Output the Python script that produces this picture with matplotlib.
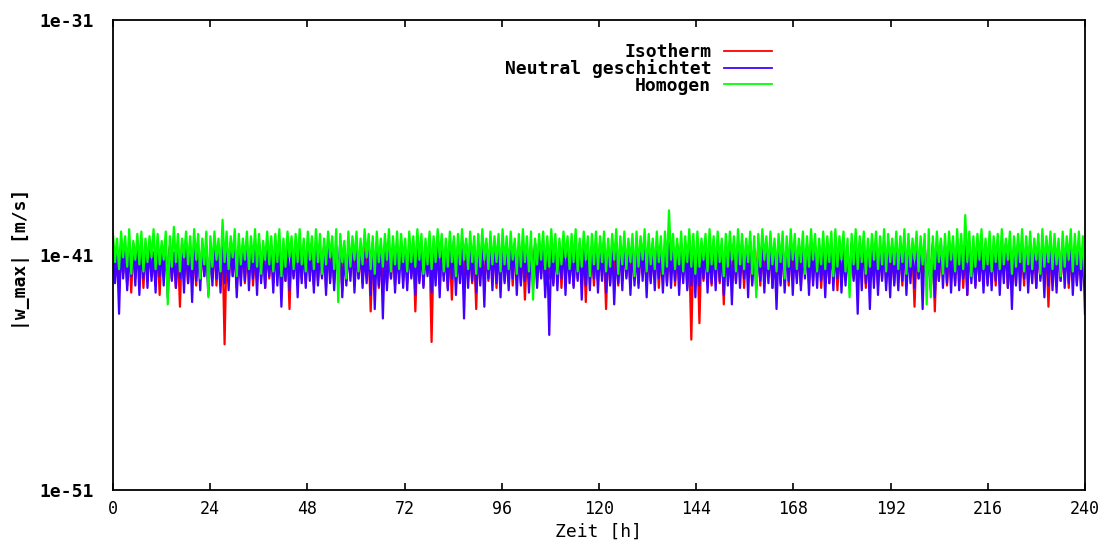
import matplotlib

matplotlib.use("Agg")
import matplotlib.pyplot as plt
import numpy as np

# |w_max| per hour as log10 exponents in tenths (e.g. -405 -> 1e-40.5 m/s).
# Each hour carries the upper and lower value of the trace.
isotherm_hi = [
    -407, -409, -406, -408, -407, -405, -409, -406, -408, -407, -409, -406, -407, -408, -406, -409, -407, -405, -408, -406, -409, -407, -408, -406,
    -408, -406, -409, -407, -405, -408, -406, -409, -407, -408, -406, -409, -405, -407, -408, -406, -409, -407, -406, -408, -405, -409, -407, -408,
    -406, -408, -407, -409, -406, -405, -408, -407, -409, -406, -408, -405, -407, -409, -406, -408, -407, -405, -409, -406, -408, -407, -409, -406,
    -409, -407, -405, -408, -406, -409, -407, -408, -406, -405, -409, -407, -408, -406, -409, -405, -407, -408, -406, -409, -407, -405, -408, -406,
    -407, -405, -408, -406, -409, -407, -408, -406, -405, -409, -407, -408, -406, -409, -405, -407, -408, -406, -409, -407, -405, -408, -406, -409,
    -405, -408, -406, -409, -407, -408, -406, -405, -409, -407, -408, -406, -409, -405, -407, -408, -406, -409, -407, -405, -408, -406, -409, -407,
    -408, -406, -409, -407, -405, -408, -406, -409, -407, -408, -406, -405, -409, -407, -408, -406, -409, -405, -407, -408, -406, -409, -407, -405,
    -406, -409, -407, -405, -408, -406, -409, -407, -408, -406, -405, -409, -407, -408, -406, -409, -405, -407, -408, -406, -409, -407, -405, -408,
    -409, -407, -408, -406, -405, -409, -407, -408, -406, -409, -405, -407, -408, -406, -409, -407, -405, -408, -406, -409, -407, -408, -406, -405,
    -407, -408, -406, -409, -405, -407, -408, -406, -409, -407, -405, -408, -406, -409, -407, -408, -406, -405, -409, -407, -408, -406, -409, -407,
]
isotherm_lo = [
    -419, -422, -418, -423, -426, -420, -417, -424, -421, -419, -423, -427, -418, -422, -420, -424, -432, -419, -422, -418, -423, -421, -419, -424,
    -420, -423, -418, -448, -421, -419, -424, -420, -422, -418, -423, -421, -419, -424, -420, -422, -418, -425, -421, -433, -419, -423, -420, -422,
    -418, -423, -421, -419, -424, -420, -422, -418, -425, -421, -419, -423, -420, -422, -418, -434, -421, -424, -419, -422, -420, -423, -418, -421,
    -422, -419, -434, -421, -423, -418, -447, -420, -422, -419, -424, -429, -421, -418, -423, -420, -422, -433, -419, -423, -421, -418, -424, -420,
    -421, -418, -423, -420, -422, -429, -419, -424, -421, -418, -423, -420, -422, -419, -424, -421, -418, -423, -420, -422, -430, -419, -423, -421,
    -419, -433, -422, -418, -423, -421, -419, -424, -420, -422, -418, -423, -421, -419, -424, -420, -422, -418, -423, -421, -419, -424, -446, -420,
    -439, -421, -419, -423, -420, -422, -431, -418, -423, -421, -419, -424, -420, -422, -418, -423, -421, -419, -424, -420, -422, -418, -423, -421,
    -420, -423, -418, -422, -421, -419, -424, -420, -422, -418, -425, -421, -419, -423, -420, -422, -418, -424, -421, -419, -423, -420, -422, -418,
    -422, -419, -423, -421, -418, -432, -420, -422, -419, -424, -434, -421, -418, -423, -420, -422, -419, -424, -427, -418, -423, -421, -419, -422,
    -419, -423, -421, -418, -424, -420, -422, -419, -423, -421, -418, -424, -420, -422, -432, -419, -423, -421, -418, -424, -420, -422, -419, -423,
]
neutral_hi = [
    -406, -408, -405, -407, -409, -406, -404, -408, -407, -405, -409, -406, -408, -405, -407, -409, -406, -408, -405, -407, -406, -409, -405, -408,
    -407, -405, -409, -406, -408, -405, -407, -409, -406, -404, -408, -407, -405, -409, -406, -408, -405, -407, -409, -406, -408, -405, -407, -406,
    -405, -408, -406, -409, -407, -405, -408, -406, -404, -409, -407, -405, -408, -406, -409, -407, -405, -408, -406, -407, -409, -405, -408, -406,
    -408, -406, -409, -405, -407, -408, -406, -409, -405, -407, -408, -406, -404, -409, -407, -405, -408, -406, -409, -407, -405, -408, -406, -407,
    -406, -409, -407, -405, -408, -406, -409, -407, -405, -408, -406, -409, -407, -405, -408, -404, -406, -409, -407, -405, -408, -406, -409, -407,
    -407, -405, -408, -406, -409, -407, -405, -408, -406, -409, -404, -407, -405, -408, -406, -409, -407, -405, -408, -406, -409, -407, -405, -408,
    -405, -408, -406, -409, -407, -405, -408, -406, -409, -407, -405, -408, -406, -404, -407, -409, -405, -408, -406, -409, -407, -405, -408, -406,
    -408, -406, -409, -407, -405, -408, -406, -409, -407, -405, -408, -406, -409, -407, -405, -408, -406, -404, -409, -407, -405, -408, -406, -409,
    -406, -409, -407, -405, -408, -406, -409, -407, -405, -408, -406, -409, -404, -407, -405, -408, -406, -409, -407, -405, -408, -406, -409, -407,
    -409, -407, -405, -408, -406, -409, -407, -405, -408, -406, -409, -407, -405, -408, -404, -406, -409, -407, -405, -408, -406, -409, -407, -406,
]
neutral_lo = [
    -422, -435, -420, -425, -419, -423, -427, -420, -424, -421, -426, -419, -423, -428, -421, -424, -420, -426, -422, -430, -421, -425, -419, -427,
    -423, -420, -426, -422, -425, -419, -428, -423, -421, -425, -420, -427, -422, -424, -419, -426, -423, -432, -421, -425, -420, -428, -422, -424,
    -421, -426, -423, -420, -427, -422, -425, -419, -428, -423, -421, -426, -420, -424, -422, -427, -433, -423, -437, -425, -420, -426, -422, -424,
    -425, -420, -427, -422, -424, -419, -426, -423, -428, -421, -425, -420, -427, -422, -437, -424, -421, -426, -423, -432, -420, -425, -422, -428,
    -422, -425, -420, -427, -423, -421, -426, -422, -424, -420, -428, -444, -423, -425, -420, -427, -422, -424, -421, -429, -423, -425, -420, -426,
    -421, -426, -423, -431, -422, -425, -420, -427, -423, -424, -421, -428, -422, -425, -420, -426, -423, -424, -421, -427, -422, -425, -423, -428,
    -423, -420, -426, -422, -425, -421, -427, -423, -431, -422, -424, -420, -428, -423, -425, -421, -426, -422, -424, -433, -423, -426, -421, -427,
    -422, -425, -420, -427, -423, -424, -421, -428, -422, -425, -420, -426, -423, -424, -421, -435, -425, -422, -433, -424, -427, -421, -425, -428,
    -423, -425, -421, -427, -422, -424, -420, -433, -423, -425, -428, -421, -424, -422, -426, -423, -425, -420, -427, -422, -424, -421, -426, -423,
    -425, -421, -427, -422, -424, -433, -423, -425, -420, -426, -422, -424, -421, -428, -423, -425, -426, -421, -424, -422, -427, -423, -425, -435,
]
homogen_hi = [
    -401, -403, -400, -402, -399, -404, -401, -400, -403, -402, -399, -401, -404, -400, -402, -398, -401, -403, -400, -402, -399, -401, -403, -400,
    -402, -400, -403, -395, -400, -402, -399, -401, -403, -400, -402, -399, -401, -404, -400, -402, -401, -399, -403, -400, -402, -401, -399, -403,
    -400, -402, -399, -401, -403, -400, -402, -399, -401, -404, -400, -402, -400, -403, -399, -401, -402, -400, -403, -401, -399, -402, -400, -401,
    -403, -400, -402, -399, -401, -403, -400, -402, -399, -401, -403, -400, -402, -401, -399, -403, -400, -402, -401, -399, -403, -400, -402, -401,
    -399, -402, -400, -403, -401, -399, -402, -400, -403, -401, -400, -402, -399, -401, -403, -400, -402, -401, -399, -403, -400, -402, -401, -400,
    -402, -400, -403, -401, -399, -402, -400, -403, -401, -400, -402, -399, -401, -403, -400, -402, -400, -391, -401, -403, -400, -402, -399, -401,
    -400, -403, -401, -399, -402, -400, -403, -401, -400, -402, -399, -401, -403, -400, -402, -401, -399, -402, -400, -403, -401, -400, -402, -399,
    -401, -403, -400, -402, -399, -401, -403, -400, -402, -400, -399, -402, -400, -403, -401, -399, -402, -400, -403, -401, -400, -402, -399, -401,
    -403, -400, -402, -399, -401, -403, -400, -402, -401, -399, -402, -400, -403, -401, -400, -402, -399, -401, -393, -400, -402, -401, -399, -403,
    -400, -402, -401, -399, -403, -400, -402, -401, -399, -402, -400, -403, -401, -399, -402, -400, -401, -403, -400, -402, -399, -401, -400, -402,
]
homogen_lo = [
    -413, -416, -411, -415, -418, -412, -414, -417, -413, -411, -416, -414, -412, -431, -415, -413, -417, -411, -414, -416, -412, -420, -414, -428,
    -415, -412, -417, -413, -416, -411, -419, -414, -412, -416, -413, -415, -418, -412, -414, -417, -413, -419, -415, -411, -416, -413, -414, -417,
    -412, -416, -413, -418, -414, -411, -416, -430, -413, -420, -415, -412, -417, -414, -411, -416, -418, -413, -415, -412, -417, -414, -416, -413,
    -417, -413, -415, -412, -418, -414, -416, -413, -411, -417, -415, -413, -419, -414, -412, -416, -413, -418, -415, -412, -416, -414, -413, -417,
    -414, -416, -412, -418, -415, -413, -417, -429, -414, -412, -416, -415, -413, -418, -414, -411, -416, -413, -417, -415, -412, -419, -414, -416,
    -413, -417, -415, -412, -418, -414, -416, -413, -419, -415, -412, -417, -414, -416, -413, -418, -415, -412, -416, -414, -417, -413, -415, -418,
    -415, -412, -417, -414, -416, -413, -419, -415, -412, -417, -414, -416, -413, -418, -428, -415, -412, -416, -414, -417, -413, -420, -415, -412,
    -416, -413, -418, -415, -412, -417, -414, -416, -413, -419, -415, -412, -417, -428, -414, -416, -413, -418, -415, -412, -416, -414, -417, -413,
    -414, -416, -413, -418, -415, -412, -417, -414, -431, -428, -416, -413, -418, -415, -412, -417, -414, -416, -413, -419, -415, -412, -416, -414,
    -417, -413, -416, -414, -412, -418, -415, -413, -417, -414, -416, -412, -418, -415, -413, -416, -414, -419, -415, -412, -417, -414, -416, -420,
]
series_labels = ["Isotherm", "Neutral geschichtet", "Homogen"]
series_colors = ["#ff0000", "#4400ff", "#00ff00"]
x_ticks = [0, 24, 48, 72, 96, 120, 144, 168, 192, 216, 240]
y_ticks = [1e-51, 1e-41, 1e-31]
y_ticklabels = ["1e-51", "1e-41", "1e-31"]

MONO = "DejaVu Sans Mono"


def _trace(hi, lo):
    # alternate upper and lower value of each hour -> dense gnuplot-like trace
    exps = np.column_stack([hi, lo]).ravel() / 10.0
    t = np.linspace(0, 240, exps.size)
    return t, 10.0 ** exps


fig = plt.figure(figsize=(11.12, 5.45), dpi=100)
ax = fig.add_axes([0.1016, 0.1009, 0.8741, 0.8624])

for (hi, lo), label, color in zip(
    [(isotherm_hi, isotherm_lo), (neutral_hi, neutral_lo), (homogen_hi, homogen_lo)],
    series_labels,
    series_colors,
):
    t, w = _trace(hi, lo)
    ax.plot(t, w, color=color, linewidth=1.6, label=label)

ax.set_yscale("log")
ax.set_xlim(0, 240)
ax.set_ylim(1e-51, 1e-31)
ax.set_xticks(x_ticks)
ax.set_xticklabels([str(t) for t in x_ticks], fontfamily=MONO, fontsize=12)
ax.set_yticks(y_ticks)
ax.set_yticklabels(y_ticklabels, fontfamily=MONO, fontweight="bold", fontsize=13)
ax.yaxis.set_minor_locator(matplotlib.ticker.NullLocator())
ax.tick_params(axis="x", direction="in", length=5, width=1.2, top=True, pad=7)
ax.tick_params(axis="y", length=0, pad=14)
for spine in ax.spines.values():
    spine.set_linewidth(1.3)

ax.set_xlabel("Zeit [h]", fontfamily=MONO, fontsize=13)
ax.xaxis.set_label_coords(0.5, -0.07)
ax.set_ylabel("|w_max| [m/s]", fontfamily=MONO, fontweight="bold", fontsize=13)
ax.yaxis.set_label_coords(-0.085, 0.49)

leg = ax.legend(
    loc="upper right",
    bbox_to_anchor=(0.687, 0.970),
    frameon=False,
    markerfirst=False,
    handlelength=2.65,
    handletextpad=0.7,
    labelspacing=-0.1,
    borderpad=0,
    prop={"family": MONO, "weight": "bold", "size": 13},
)
for handle in leg.legend_handles:
    handle.set_linewidth(1.3)

fig.savefig("out.png", dpi=100)
